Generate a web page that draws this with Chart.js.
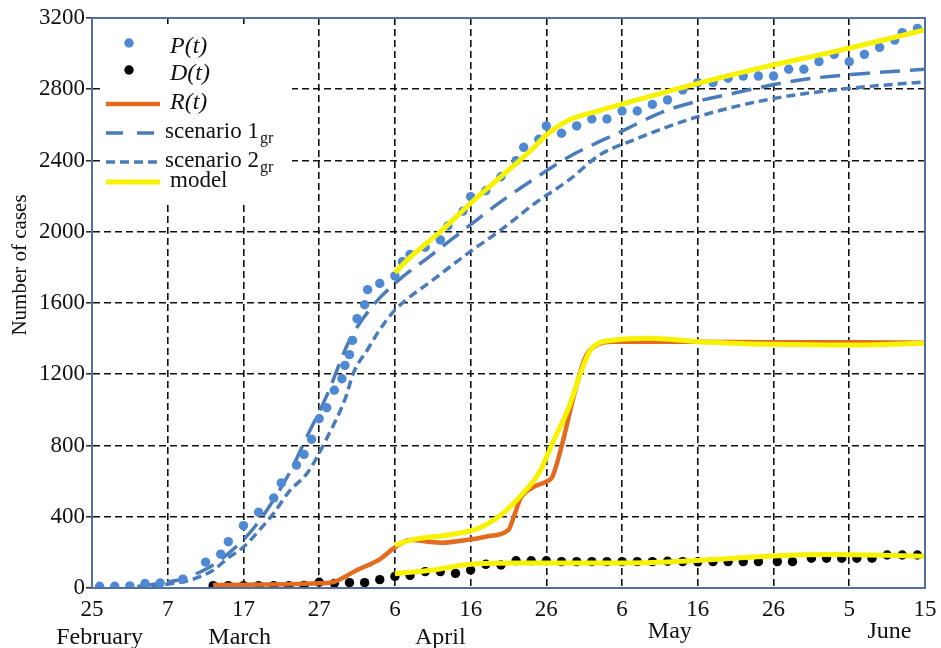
<!DOCTYPE html>
<html>
<head>
<meta charset="utf-8">
<script src="https://cdn.jsdelivr.net/npm/chart.js@4.4.0/dist/chart.umd.min.js"></script>
<style>
  html, body { margin: 0; padding: 0; background: #fff; }
</style>
</head>
<body>
<canvas id="chart" width="941" height="648"></canvas>
<script>
// x = days since 25 February, ticks every 10 days
const xTickLabels = ['25', '7', '17', '27', '6', '16', '26', '6', '16', '26', '5', '15'];
const monthNames = ['February', 'March', 'April', 'May', 'June'];
const monthDays = [1, 19.5, 46, 76.3, 105.3];

// P(t) observed
const pDays = [1, 3, 5, 7, 9, 12, 15, 17, 18, 20, 22, 24, 25, 27, 28, 29, 30, 31, 32, 33, 33.4, 34, 34.4, 35, 36, 36.4, 38, 40, 41, 42, 44, 46, 47, 49, 50, 52, 54, 56, 57, 59, 60, 62, 64, 66, 68, 70, 72, 74, 76, 78, 80, 82, 84, 86, 88, 90, 92, 94, 96, 98, 100, 102, 104, 106, 107, 109];
const pCases = [10, 10, 12, 25, 28, 50, 145, 190, 260, 350, 425, 505, 590, 690, 750, 835, 950, 1012, 1110, 1175, 1250, 1310, 1390, 1512, 1590, 1675, 1710, 1752, 1832, 1873, 1913, 1954, 2032, 2116, 2197, 2230, 2309, 2399, 2474, 2519, 2594, 2553, 2594, 2633, 2633, 2678, 2678, 2715, 2740, 2796, 2837, 2837, 2862, 2874, 2874, 2874, 2912, 2912, 2955, 2996, 2955, 2996, 3035, 3076, 3118, 3142];

// D(t) observed
const dDays = [16, 18, 20, 22, 24, 26, 28, 30, 32, 34, 36, 38, 40, 42, 44, 46, 48, 50, 52, 54, 56, 58, 60, 62, 64, 66, 68, 70, 72, 74, 76, 78, 80, 82, 84, 86, 88, 90.5, 92.5, 95, 97, 99, 101, 103, 105, 107, 109];
const dCases = [13, 13, 13, 13, 13, 13, 15, 32, 26, 30, 30, 47, 65, 70, 92, 92, 82, 101, 133, 129, 153, 153, 153, 148, 148, 148, 148, 148, 148, 148, 150, 148, 147, 148, 148, 148, 148, 148, 148, 167, 167, 167, 167, 167, 185, 185, 185];

// R(t) observed
const rDays = [16, 30, 32, 35, 38, 40, 42, 46, 50, 52.5, 55, 55.7, 56.6, 58.4, 60, 60.8, 62, 63.6, 65, 66, 69, 74, 80, 90, 100, 110];
const rCases = [17, 26, 35, 101, 161, 228, 270, 254, 273, 292, 326, 400, 504, 569, 597, 625, 793, 1074, 1280, 1346, 1383, 1383, 1383, 1380, 1380, 1377];

// scenarios
const s1Days = [6, 9, 12, 15, 17.5, 21.5, 26, 28.5, 31, 34, 37, 40, 45, 50, 54, 58.5, 63, 70, 76, 85, 93.5, 102, 110];
const s1Cases = [8, 26, 52, 105, 176, 344, 640, 860, 1080, 1390, 1580, 1710, 1875, 2040, 2169, 2300, 2421, 2565, 2683, 2780, 2852, 2889, 2912];
const s2Days = [6, 10, 13, 16, 18, 20, 22, 24, 26, 28.5, 31, 33.5, 34.5, 36.5, 38, 40, 45, 50, 54, 58.5, 63, 67, 71.5, 80, 89, 98, 110];
const s2Cases = [6, 22, 45, 100, 170, 230, 320, 420, 540, 650, 840, 1070, 1205, 1346, 1450, 1560, 1729, 1890, 2010, 2160, 2291, 2430, 2515, 2646, 2740, 2796, 2842];

// model curves
const mpDays = [40, 42, 46, 50, 54, 58, 60, 63, 67, 72, 80, 89, 98, 110];
const mpCases = [1770, 1856, 2000, 2160, 2309, 2459, 2543, 2627, 2680, 2740, 2833, 2927, 3011, 3133];
const mrDays = [40, 42.5, 47, 51, 54, 56.5, 59, 61, 63, 64.5, 66, 69, 73.5, 80, 90, 100, 110];
const mrCases = [241, 273, 298, 335, 410, 513, 644, 831, 1018, 1205, 1346, 1392, 1402, 1383, 1368, 1364, 1374];
const mdDays = [40, 45, 50, 56, 65, 75, 82, 90, 98, 110];
const mdCases = [80, 101, 133, 140, 140, 145, 160, 180, 188, 178];

const pts = (xs, ys) => xs.map((x, i) => ({ x: x, y: ys[i] }));

const BLUE_DOT = '#4f89d3';
const BLUE_LINE = '#4a7cb9';
const ORANGE = '#e26b1f';
const YELLOW = '#f6f200';
const FRAME = '#51709f';
const SERIF = '"Liberation Serif", "DejaVu Serif", serif';

const lineSet = (data, color, width, dash, order) => ({
  data: data,
  showLine: true,
  borderColor: color,
  borderWidth: width,
  borderDash: dash,
  pointRadius: 0,
  fill: false,
  cubicInterpolationMode: 'monotone',
  order: order
});

const dotSet = (data, color, order) => ({
  data: data,
  showLine: false,
  pointRadius: 4.7,
  pointBackgroundColor: color,
  pointBorderWidth: 0,
  order: order
});

// hide the grid lines that sit under the frame
const innerGrid = (first, last) => ctx =>
  (ctx.tick && (ctx.tick.value === first || ctx.tick.value === last)) ? 'rgba(0,0,0,0)' : '#111';

// frame, month names, axis title and inside legend
const decorPlugin = {
  id: 'decor',
  afterDraw(chart) {
    const ctx = chart.ctx;
    const a = chart.chartArea;
    const xs = chart.scales.x;
    ctx.save();

    ctx.strokeStyle = FRAME;
    ctx.lineWidth = 2;
    ctx.setLineDash([]);
    ctx.strokeRect(a.left, a.top, a.right - a.left, a.bottom - a.top);

    ctx.fillStyle = '#111';
    ctx.font = '24px ' + SERIF;
    ctx.textAlign = 'center';
    ctx.textBaseline = 'middle';
    const rowY = [638, 638, 638, 632, 632];
    monthNames.forEach((m, i) => {
      ctx.fillText(m, xs.getPixelForValue(monthDays[i]), rowY[i]);
    });

    ctx.save();
    ctx.translate(20, 265);
    ctx.rotate(-Math.PI / 2);
    ctx.font = '21px ' + SERIF;
    ctx.fillText('Number of cases', 0, 0);
    ctx.restore();

    // legend box
    ctx.fillStyle = '#fff';
    ctx.fillRect(104, 24, 188, 179);
    ctx.textAlign = 'left';
    ctx.textBaseline = 'alphabetic';

    ctx.fillStyle = BLUE_DOT;
    ctx.beginPath(); ctx.arc(129, 43, 4.7, 0, Math.PI * 2); ctx.fill();
    ctx.fillStyle = '#000';
    ctx.beginPath(); ctx.arc(129, 70, 4.7, 0, Math.PI * 2); ctx.fill();

    const seg = (y, color, width, dash) => {
      ctx.strokeStyle = color;
      ctx.lineWidth = width;
      ctx.setLineDash(dash);
      ctx.beginPath(); ctx.moveTo(106, y); ctx.lineTo(160, y); ctx.stroke();
    };
    seg(104, ORANGE, 4.5, []);
    seg(133, BLUE_LINE, 3.5, [17, 14]);
    seg(162, BLUE_LINE, 3.5, [9, 5]);
    seg(182, YELLOW, 5, []);
    ctx.setLineDash([]);

    ctx.fillStyle = '#111';
    ctx.font = 'italic 24px ' + SERIF;
    ctx.fillText('P(t)', 170, 53);
    ctx.fillText('D(t)', 170, 80);
    ctx.fillText('R(t)', 170, 109);

    const sub = (main, s, x, y) => {
      ctx.font = '23px ' + SERIF;
      ctx.fillText(main, x, y);
      const w = ctx.measureText(main).width;
      ctx.font = '16px ' + SERIF;
      ctx.fillText(s, x + w + 1, y + 5);
    };
    sub('scenario 1', 'gr', 165, 138);
    sub('scenario 2', 'gr', 165, 167);
    ctx.font = '23px ' + SERIF;
    ctx.fillText('model', 170, 187);
    ctx.restore();
  }
};

new Chart(document.getElementById('chart'), {
  type: 'scatter',
  data: {
    datasets: [
      lineSet(pts(mpDays, mpCases), YELLOW, 5, [], 0),
      lineSet(pts(mrDays, mrCases), YELLOW, 5, [], 0),
      lineSet(pts(mdDays, mdCases), YELLOW, 5, [], 0),
      lineSet(pts(rDays, rCases), ORANGE, 4.5, [], 1),
      dotSet(pts(pDays, pCases), BLUE_DOT, 2),
      dotSet(pts(dDays, dCases), '#000', 3),
      lineSet(pts(s1Days, s1Cases), BLUE_LINE, 3.5, [20, 10], 4),
      lineSet(pts(s2Days, s2Cases), BLUE_LINE, 3.5, [9, 5], 5)
    ]
  },
  options: {
    responsive: false,
    animation: false,
    events: [],
    layout: { padding: { top: 18, right: 16, left: 0, bottom: 0 } },
    plugins: { legend: { display: false }, tooltip: { enabled: false } },
    scales: {
      x: {
        type: 'linear',
        min: 0,
        max: 110,
        afterFit: s => { s.height = 60; s.paddingLeft = 0; s.paddingRight = 0; },
        ticks: {
          stepSize: 10,
          autoSkip: false,
          maxRotation: 0,
          padding: 8,
          color: '#111',
          font: { family: SERIF, size: 23 },
          callback: v => xTickLabels[Math.round(v / 10)]
        },
        grid: { color: innerGrid(0, 110), lineWidth: 1.6, drawTicks: false },
        border: { color: FRAME, width: 2, dash: [7, 4] }
      },
      y: {
        min: 0,
        max: 3200,
        afterFit: s => { s.width = 92; s.paddingTop = 0; s.paddingBottom = 0; },
        ticks: {
          stepSize: 400,
          padding: 1,
          color: '#111',
          font: { family: SERIF, size: 23 },
          callback: v => String(v)
        },
        grid: { color: innerGrid(0, 3200), lineWidth: 1.6, tickLength: 6, tickColor: '#333' },
        border: { color: FRAME, width: 2, dash: [7, 4] }
      }
    }
  },
  plugins: [decorPlugin]
});
</script>
</body>
</html>
